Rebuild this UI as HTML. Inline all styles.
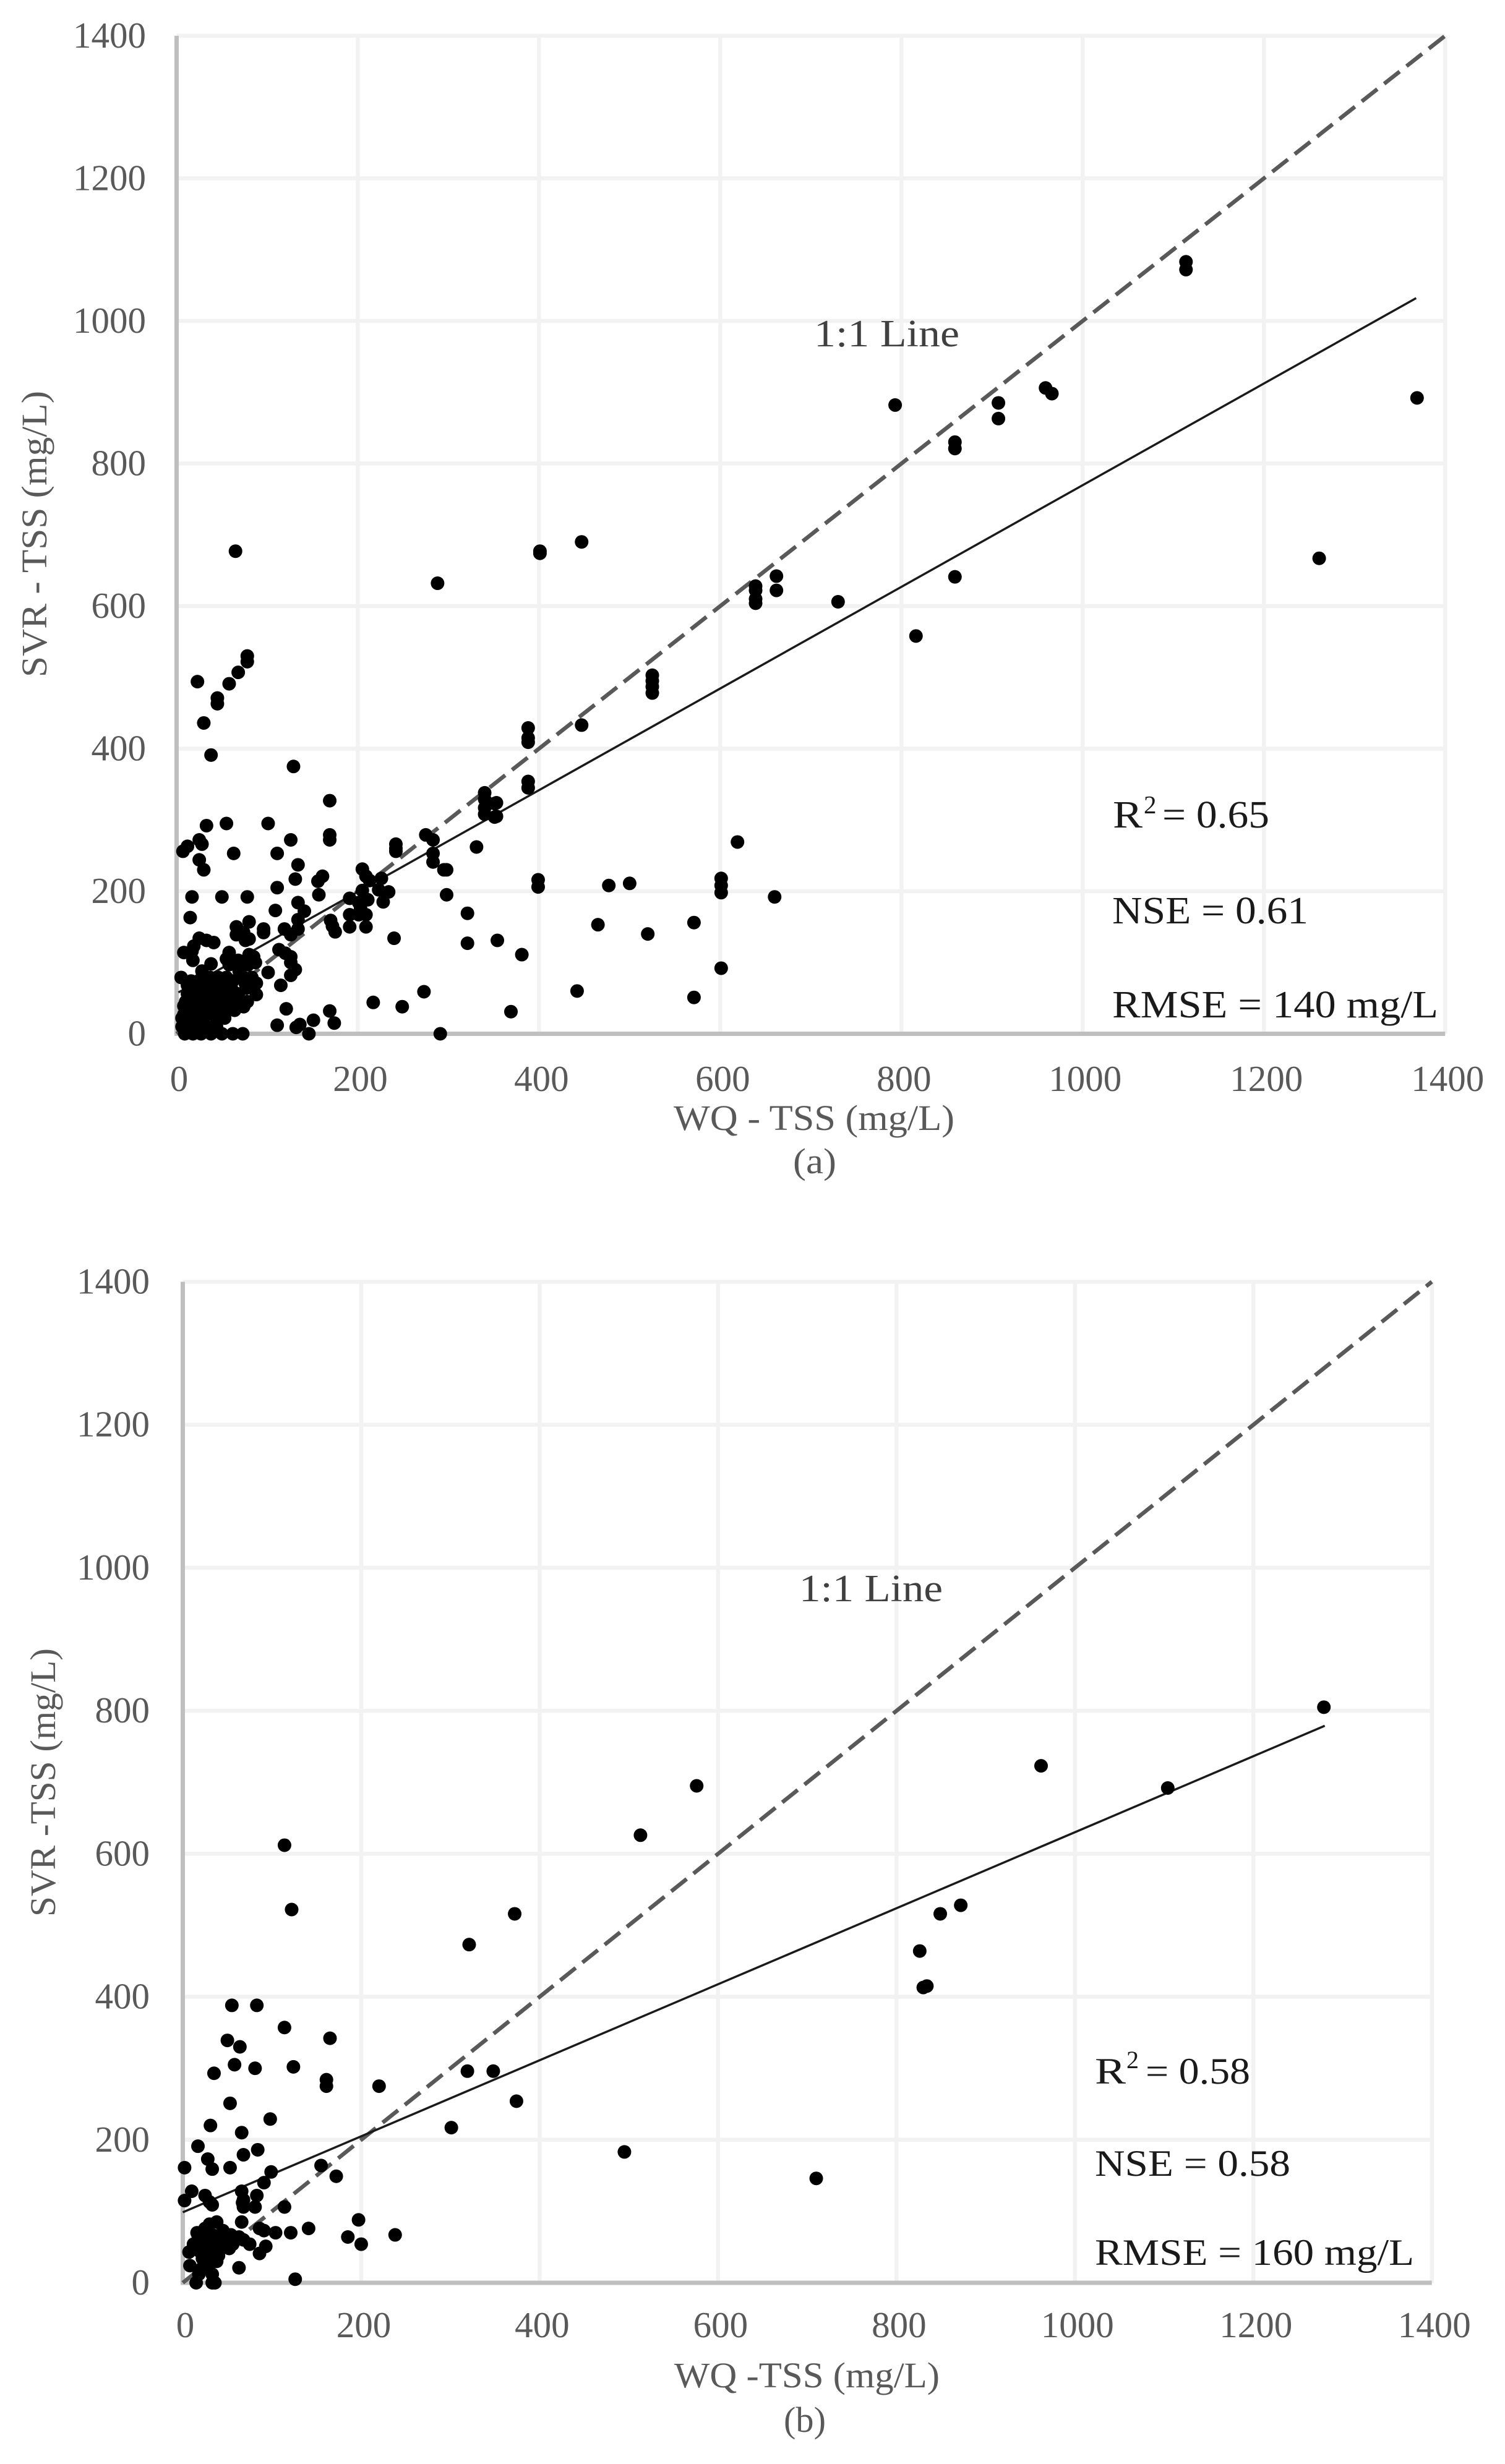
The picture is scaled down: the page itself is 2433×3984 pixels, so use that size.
<!DOCTYPE html>
<html lang="en">
<head>
<meta charset="utf-8">
<title>SVR vs WQ TSS scatter plots</title>
<style>
html,body{margin:0;padding:0;background:#fff;}
svg{display:block;}
text{font-family:"Liberation Serif",serif;}
</style>
</head>
<body>
<svg id="figure" xmlns="http://www.w3.org/2000/svg" width="2433" height="3984" viewBox="0 0 2433 3984">
<rect x="0" y="0" width="2433" height="3984" fill="#ffffff"/>
<g id="chart-a"></g>
<g id="chart-b"></g>

<g>
<text x="1089" y="1827" font-size="58" fill="#595959" textLength="454" lengthAdjust="spacingAndGlyphs">WQ - TSS (mg/L)</text>
<text x="1282" y="1897" font-size="58" fill="#595959" textLength="70" lengthAdjust="spacingAndGlyphs">(a)</text>
<text transform="translate(75,1095) rotate(-90)" font-size="58" fill="#595959" textLength="463" lengthAdjust="spacingAndGlyphs">SVR - TSS (mg/L)</text>
<text x="1316" y="560" font-size="62" fill="#404040" textLength="235" lengthAdjust="spacingAndGlyphs">1:1 Line</text>
<text x="1799" y="1338" font-size="62" fill="#1a1a1a" textLength="48" lengthAdjust="spacingAndGlyphs">R</text>
<text x="1849" y="1315" font-size="41" fill="#1a1a1a">2</text>
<text x="1879" y="1338" font-size="62" fill="#1a1a1a" textLength="173" lengthAdjust="spacingAndGlyphs">= 0.65</text>
<text x="1798" y="1493" font-size="62" fill="#1a1a1a" textLength="317" lengthAdjust="spacingAndGlyphs">NSE = 0.61</text>
<text x="1798" y="1645" font-size="62" fill="#1a1a1a" textLength="527" lengthAdjust="spacingAndGlyphs">RMSE = 140 mg/L</text>
</g>

<g>
<text x="1090" y="3860" font-size="58" fill="#595959" textLength="429" lengthAdjust="spacingAndGlyphs">WQ -TSS (mg/L)</text>
<text x="1267" y="3932" font-size="58" fill="#595959" textLength="68" lengthAdjust="spacingAndGlyphs">(b)</text>
<text transform="translate(89,3099) rotate(-90)" font-size="58" fill="#595959" textLength="434" lengthAdjust="spacingAndGlyphs">SVR -TSS (mg/L)</text>
<text x="1292" y="2589" font-size="62" fill="#404040" textLength="232" lengthAdjust="spacingAndGlyphs">1:1 Line</text>
<text x="1770" y="3369" font-size="60" fill="#1a1a1a" textLength="50" lengthAdjust="spacingAndGlyphs">R</text>
<text x="1821" y="3344" font-size="40" fill="#1a1a1a">2</text>
<text x="1852" y="3369" font-size="60" fill="#1a1a1a" textLength="169" lengthAdjust="spacingAndGlyphs">= 0.58</text>
<text x="1770" y="3518" font-size="60" fill="#1a1a1a" textLength="316" lengthAdjust="spacingAndGlyphs">NSE = 0.58</text>
<text x="1770" y="3662" font-size="60" fill="#1a1a1a" textLength="516" lengthAdjust="spacingAndGlyphs">RMSE = 160 mg/L</text>
</g>
</svg>

<script>
const tickValues = [0, 200, 400, 600, 800, 1000, 1200, 1400];
const identityLine = [0, 1400];

const fitXA = [2, 1368];
const fitYA = [58, 1032];
const fitXB = [0, 1280];
const fitYB = [98.6, 779];

const wqTssA = [
1114,1114,793,907,907,859,859,959,966,1369,1261,859,730,816,
65,288,
401,401,447,447,388,388,388,388,388,525,525,525,525,639,639,639,639,662,662,
619,399,399,477,500,601,601,601,660,354,381,465,520,571,601,442,571,369,353,353,
78,78,68,58,23,45,45,30,38,129,169,169,169,
33,55,101,25,28,12,7,63,111,126,25,30,134,131,161,156,111,
242,242,242,275,283,283,283,205,209,213,226,234,223,295,
331,298,298,340,340,340,340,351,351,321,321,240,217,249,273,291,228,
191,191,191,201,201,209,209,205,211,203,170,172,175,157,
17,50,78,15,109,134,141,134,134,119,126,80,66,66,74,80,76,96,96,
25,41,33,19,8,17,18,58,55,58,68,80,85,87,79,69,
113,120,126,126,131,126,101,115,38,28,5,88,88,77,74,78,
28,37,46,55,74,83,
12,21,30,40,49,58,76,
12,21,30,40,49,58,68,
10,19,28,37,46,55,66,
10,19,28,41,50,64,
6,15,24,30,44,53,
6,15,24,33,44,
9,18,27,38,50,62,73,
121,111,132,136,151,146,169,174,
8,14,20,26,33,44,50,
8,14,20,26,33,40,52,60,
16,24,34,43,52,61,
16,24,34,43,52,62
];
const svrTssA = [
1083,1072,882,885,863,830,821,906,898,892,667,641,606,558,
677,632,
677,674,690,433,429,415,409,354,345,503,495,487,478,628,622,610,604,642,622,
269,216,206,208,211,218,208,198,192,131,111,153,140,156,92,60,51,31,324,305,
530,522,507,491,494,471,463,436,391,375,327,279,272,
292,295,295,272,266,263,256,253,253,272,244,230,237,217,221,214,205,
266,260,256,279,272,253,241,231,221,215,218,199,202,230,
262,230,195,338,329,317,308,323,304,169,127,134,44,38,59,0,185,
190,167,150,184,167,167,150,201,188,176,159,151,143,195,
192,192,192,163,173,184,172,160,147,147,139,157,150,139,142,133,131,147,142,
134,128,131,123,114,116,103,114,105,97,103,111,108,100,97,88,
118,113,108,100,90,82,86,68,98,88,79,71,55,64,38,45,
79,79,79,79,79,79,
68,68,68,68,68,68,70,
56,56,56,56,56,56,56,
45,45,45,45,45,45,45,
33,33,33,33,33,33,
22,22,22,22,22,22,
10,10,10,10,10,
0,0,0,0,0,0,0,
35,12,9,13,19,0,32,15,
27,27,27,27,27,27,27,
39,39,39,39,39,39,39,39,
62,62,62,62,62,62,
74,74,74,74,74,74
];

const wqTssB = [
1279,962,1104,576,513,872,849,826,834,830,495,710,
114,
122,372,321,319,348,374,301,220,165,161,161,124,114,83,55,50,64,58,81,35,53,98,31,66,17,28,33,2,53,68,84,99,155,172,91,
10,2,25,30,33,66,68,67,68,83,81,114,66,86,91,104,121,141,197,185,200,238,93,86,63,126,
38,25,17,12,7,45,54,63,75,68,33,22,19,29,40,45,56,38,49,
8,30,22,33,18,15,33,36,
16,24,30,36,44,52,14,22,30,38,30
];
const svrTssB = [
805,723,692,695,626,528,516,464,415,413,183,146,
612,
522,516,473,296,296,254,217,275,342,284,275,302,357,388,388,339,330,305,300,293,251,229,220,210,191,173,159,161,161,179,186,155,164,149,140,
128,115,122,113,109,128,116,112,106,122,106,106,85,76,73,70,70,76,88,64,54,67,51,41,21,5,
85,76,67,54,43,73,67,64,54,60,67,59,44,38,38,50,54,61,59,
24,27,21,12,12,0,0,0,
70,70,50,48,66,48,50,34,32,30,82
];

const svgNS = 'http://www.w3.org/2000/svg';

function makeScale(originPixel, pixelsPerUnit) {
  return function (value) { return originPixel + value * pixelsPerUnit; };
}

function drawPanel(rootId, prefix, layout, xs, ys, fitX, fitY) {
  const root = document.getElementById(rootId);
  const sx = makeScale(layout.x0, layout.xScale);
  const sy = makeScale(layout.y0, -layout.yScale);
  const xMax = tickValues[tickValues.length - 1];
  const yMax = tickValues[tickValues.length - 1];

  tickValues.forEach(function (tick) {
    if (tick !== 0) {
      const vGrid = document.createElementNS(svgNS, 'line');
      
      
      vGrid.setAttribute('x1', sx(tick));
      vGrid.setAttribute('x2', sx(tick));
      vGrid.setAttribute('y1', sy(yMax));
      vGrid.setAttribute('y2', sy(0));
      vGrid.setAttribute('stroke', '#f2f2f2');
      vGrid.setAttribute('stroke-width', '6.5');
      root.appendChild(vGrid);

      const hGrid = document.createElementNS(svgNS, 'line');
      
      
      hGrid.setAttribute('x1', sx(0));
      hGrid.setAttribute('x2', sx(xMax));
      hGrid.setAttribute('y1', sy(tick));
      hGrid.setAttribute('y2', sy(tick));
      hGrid.setAttribute('stroke', '#f2f2f2');
      hGrid.setAttribute('stroke-width', '6.5');
      root.appendChild(hGrid);
    }

    const xLabel = document.createElementNS(svgNS, 'text');
    
    
    xLabel.setAttribute('x', sx(tick) + 4);
    xLabel.setAttribute('y', layout.xLabelY);
    xLabel.setAttribute('font-size', '59');
    xLabel.setAttribute('fill', '#595959');
    xLabel.setAttribute('text-anchor', 'middle');
    xLabel.textContent = String(tick);
    root.appendChild(xLabel);

    const yLabel = document.createElementNS(svgNS, 'text');
    
    
    yLabel.setAttribute('x', layout.yLabelX);
    yLabel.setAttribute('y', sy(tick) + 19);
    yLabel.setAttribute('font-size', '59');
    yLabel.setAttribute('fill', '#595959');
    yLabel.setAttribute('text-anchor', 'end');
    yLabel.textContent = String(tick);
    root.appendChild(yLabel);
  });

  const yAxis = document.createElementNS(svgNS, 'line');
  
  
  yAxis.setAttribute('x1', sx(0));
  yAxis.setAttribute('x2', sx(0));
  yAxis.setAttribute('y1', sy(yMax));
  yAxis.setAttribute('y2', sy(0) + 3);
  yAxis.setAttribute('stroke', '#bfbfbf');
  yAxis.setAttribute('stroke-width', '7');
  root.appendChild(yAxis);

  const xAxis = document.createElementNS(svgNS, 'line');
  
  
  xAxis.setAttribute('x1', sx(0) - 3);
  xAxis.setAttribute('x2', sx(xMax));
  xAxis.setAttribute('y1', sy(0));
  xAxis.setAttribute('y2', sy(0));
  xAxis.setAttribute('stroke', '#bfbfbf');
  xAxis.setAttribute('stroke-width', '7');
  root.appendChild(xAxis);

  const identity = document.createElementNS(svgNS, 'line');
  
  
  identity.setAttribute('x1', sx(identityLine[0]));
  identity.setAttribute('y1', sy(identityLine[0]));
  identity.setAttribute('x2', sx(identityLine[1]));
  identity.setAttribute('y2', sy(identityLine[1]));
  identity.setAttribute('stroke', '#595959');
  identity.setAttribute('stroke-width', '6.5');
  identity.setAttribute('stroke-dasharray', '32 14');
  root.appendChild(identity);

  const fit = document.createElementNS(svgNS, 'line');
  
  
  fit.setAttribute('x1', sx(fitX[0]));
  fit.setAttribute('y1', sy(fitY[0]));
  fit.setAttribute('x2', sx(fitX[1]));
  fit.setAttribute('y2', sy(fitY[1]));
  fit.setAttribute('stroke', '#1a1a1a');
  fit.setAttribute('stroke-width', '3.5');
  root.appendChild(fit);

  const group = document.createElementNS(svgNS, 'g');
  
  
  root.appendChild(group);

  xs.forEach(function (xValue, i) {
    const dot = document.createElementNS(svgNS, 'circle');
    
    
    dot.setAttribute('cx', sx(xValue));
    dot.setAttribute('cy', sy(ys[i]));
    dot.setAttribute('r', '11');
    dot.setAttribute('fill', '#000000');
    group.appendChild(dot);
  });
}

drawPanel('chart-a', 'chart-a', {x0: 285.5, xScale: 1.4648, y0: 1671.5, yScale: 1.1526, xLabelY: 1764, yLabelX: 236}, wqTssA, svrTssA, fitXA, fitYA);
drawPanel('chart-b', 'chart-b', {x0: 295.5, xScale: 1.4423, y0: 3691, yScale: 1.1561, xLabelY: 3779, yLabelX: 242}, wqTssB, svrTssB, fitXB, fitYB);
</script>
</body>
</html>
